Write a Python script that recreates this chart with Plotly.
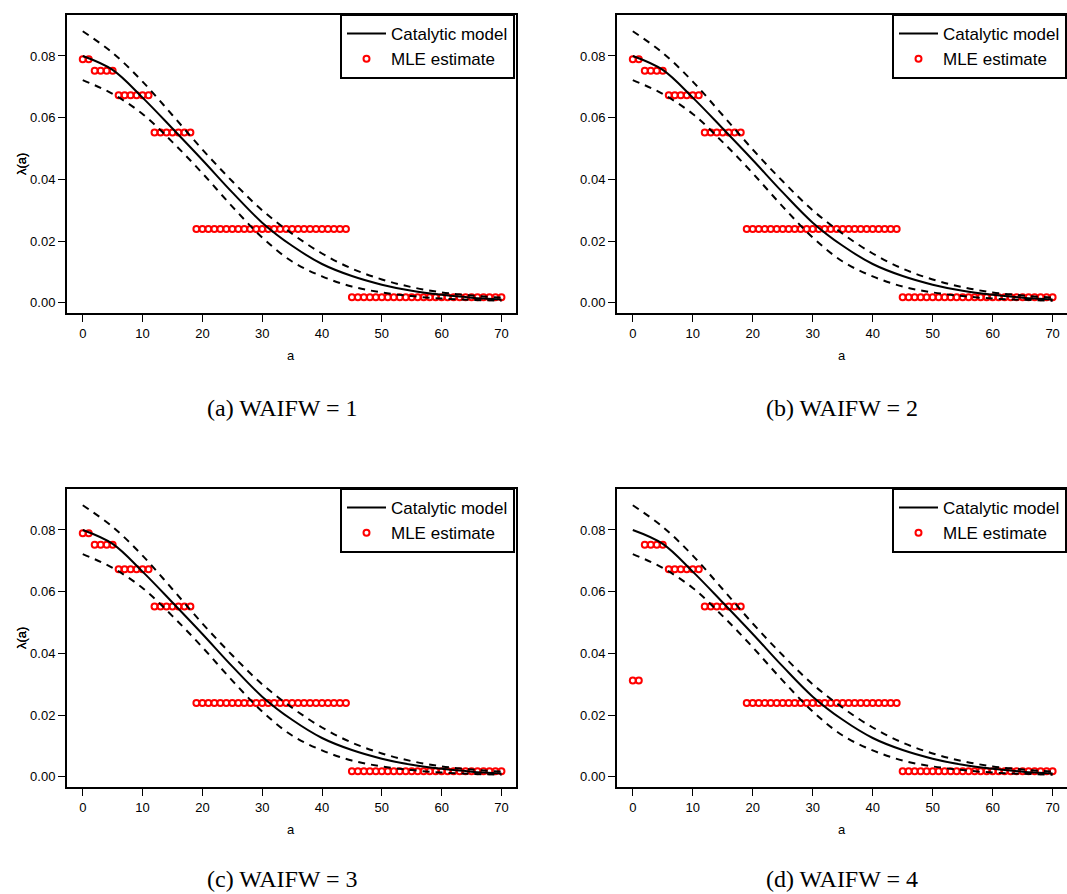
import plotly.graph_objects as go

W, H = 1067, 894

# ---------------- data ----------------
# MLE estimate: piecewise-constant by age group (ages 0..70, one point per year)
mle_group_first_age = [0, 2, 6, 12, 19, 45]
mle_group_last_age = [1, 5, 11, 18, 44, 70]
mle_values_waifw_1_3 = [0.0789, 0.0752, 0.0673, 0.0552, 0.0239, 0.0018]
mle_values_waifw_4 = [0.0312, 0.0752, 0.0673, 0.0552, 0.0239, 0.0018]

# Catalytic model fit with confidence band
curve_age = [0, 5, 10, 15, 20, 25, 30, 35, 40, 45, 50, 55, 60, 65, 70]
catalytic_fit = [0.0800, 0.0755, 0.0665, 0.0565, 0.0463, 0.0358, 0.0260, 0.0185,
                 0.0126, 0.0087, 0.0059, 0.0039, 0.0026, 0.0017, 0.0011]
catalytic_upper = [0.0880, 0.0810, 0.0717, 0.0608, 0.0497, 0.0394, 0.0300, 0.0224,
                   0.0160, 0.0111, 0.0076, 0.0051, 0.0034, 0.0024, 0.0017]
catalytic_lower = [0.0722, 0.0677, 0.0612, 0.0521, 0.0420, 0.0312, 0.0212, 0.0134,
                   0.0086, 0.0053, 0.0034, 0.0022, 0.0014, 0.0010, 0.0007]

x_ticks = [0, 10, 20, 30, 40, 50, 60, 70]
y_ticks = [0.00, 0.02, 0.04, 0.06, 0.08]
captions = ["(a) WAIFW = 1", "(b) WAIFW = 2", "(c) WAIFW = 3", "(d) WAIFW = 4"]
panel_mle = [mle_values_waifw_1_3, mle_values_waifw_1_3, mle_values_waifw_1_3, mle_values_waifw_4]


def expand_groups(firsts, lasts, vals):
    xs, ys = [], []
    for f, l, v in zip(firsts, lasts, vals):
        for a in range(f, l + 1):
            xs.append(a)
            ys.append(v)
    return xs, ys


# ---------------- layout geometry (pixels) ----------------
# (left, right, top, bottom) of each plot box
boxes = [(66, 517, 14, 314), (616, 1067, 14, 314),
         (66, 517, 488, 788), (616, 1067, 488, 788)]
x_ranges = [[-2.8, 72.6], [-2.8, 72.4], [-2.8, 72.6], [-2.8, 72.4]]
y_range = [-0.0036, 0.0936]
caption_x = [282, 842, 282, 842]
caption_y = [408, 408, 879, 879]
legend_left = [340, 892, 340, 892]

SANS = "Liberation Sans, Arial, Helvetica, sans-serif"
SERIF = "Liberation Serif, Times New Roman, serif"

fig = go.Figure()
layout = dict(width=W, height=H, margin=dict(l=0, r=0, t=0, b=0),
              paper_bgcolor="white", plot_bgcolor="white", showlegend=True)
shapes, annotations = [], []

for i in range(4):
    n = "" if i == 0 else str(i + 1)
    xa, ya = "x" + n, "y" + n
    leg = "legend" + n
    L, R, T, B = boxes[i]

    xs, ys = expand_groups(mle_group_first_age, mle_group_last_age, panel_mle[i])
    fig.add_trace(go.Scatter(x=xs, y=ys, mode="markers", name="MLE estimate",
                             marker=dict(symbol="circle-open", size=6, color="#ff0000",
                                         line=dict(width=2, color="#ff0000")),
                             xaxis=xa, yaxis=ya, legend=leg, legendrank=2))
    fig.add_trace(go.Scatter(x=curve_age, y=catalytic_upper, mode="lines",
                             line=dict(color="black", width=2, dash="7px,6px", shape="spline"),
                             showlegend=False, xaxis=xa, yaxis=ya, hoverinfo="skip"))
    fig.add_trace(go.Scatter(x=curve_age, y=catalytic_lower, mode="lines",
                             line=dict(color="black", width=2, dash="7px,6px", shape="spline"),
                             showlegend=False, xaxis=xa, yaxis=ya, hoverinfo="skip"))
    fig.add_trace(go.Scatter(x=curve_age, y=catalytic_fit, mode="lines", name="Catalytic model",
                             line=dict(color="black", width=2, shape="spline"),
                             xaxis=xa, yaxis=ya, legend=leg, legendrank=1))

    layout["xaxis" + n] = dict(domain=[L / W, R / W], range=x_ranges[i], anchor=ya,
                               tickmode="array", tickvals=x_ticks, ticks="outside",
                               ticklen=7, tickwidth=1, tickcolor="black",
                               showgrid=False, zeroline=False, showline=False,
                               tickfont=dict(family=SANS, size=13, color="black"))
    layout["yaxis" + n] = dict(domain=[1 - B / H, 1 - T / H], range=y_range, anchor=xa,
                               tickmode="array", tickvals=y_ticks, tickformat=".2f",
                               ticks="outside", ticklen=7, tickwidth=1, tickcolor="black",
                               showgrid=False, zeroline=False, showline=False,
                               tickfont=dict(family=SANS, size=13, color="black"))
    layout[leg] = dict(x=legend_left[i] / W, xanchor="left", y=1 - T / H, yanchor="top",
                       bordercolor="black", borderwidth=2, bgcolor="white",
                       font=dict(family=SANS, size=17, color="black"),
                       itemwidth=39, tracegroupgap=0)

    # plot frame (right side of right-column panels falls off the page, as in the reference)
    x1 = 1.0 if i in (0, 2) else 1.03
    shapes.append(dict(type="rect", xref=xa + " domain", yref=ya + " domain",
                       x0=0, x1=x1, y0=0, y1=1, line=dict(color="black", width=2),
                       layer="above"))

    # axis titles
    annotations.append(dict(text="a", xref="paper", yref="paper", x=(L + R) / 2 / W,
                            y=1 - (B + 41) / H, showarrow=False, xanchor="center",
                            yanchor="middle", font=dict(family=SANS, size=13, color="black")))
    annotations.append(dict(text="λ(a)", xref="paper", yref="paper", x=21 / W,
                            y=1 - (T + B) / 2 / H, showarrow=False, textangle=-90,
                            xanchor="center", yanchor="middle",
                            font=dict(family=SANS, size=13, color="black")))
    # sub-figure caption
    annotations.append(dict(text=captions[i], xref="paper", yref="paper", x=caption_x[i] / W,
                            y=1 - caption_y[i] / H, showarrow=False, xanchor="center",
                            yanchor="middle", font=dict(family=SERIF, size=24, color="black")))

layout["shapes"] = shapes
layout["annotations"] = annotations
fig.update_layout(**layout)
fig.write_html("out.html")
